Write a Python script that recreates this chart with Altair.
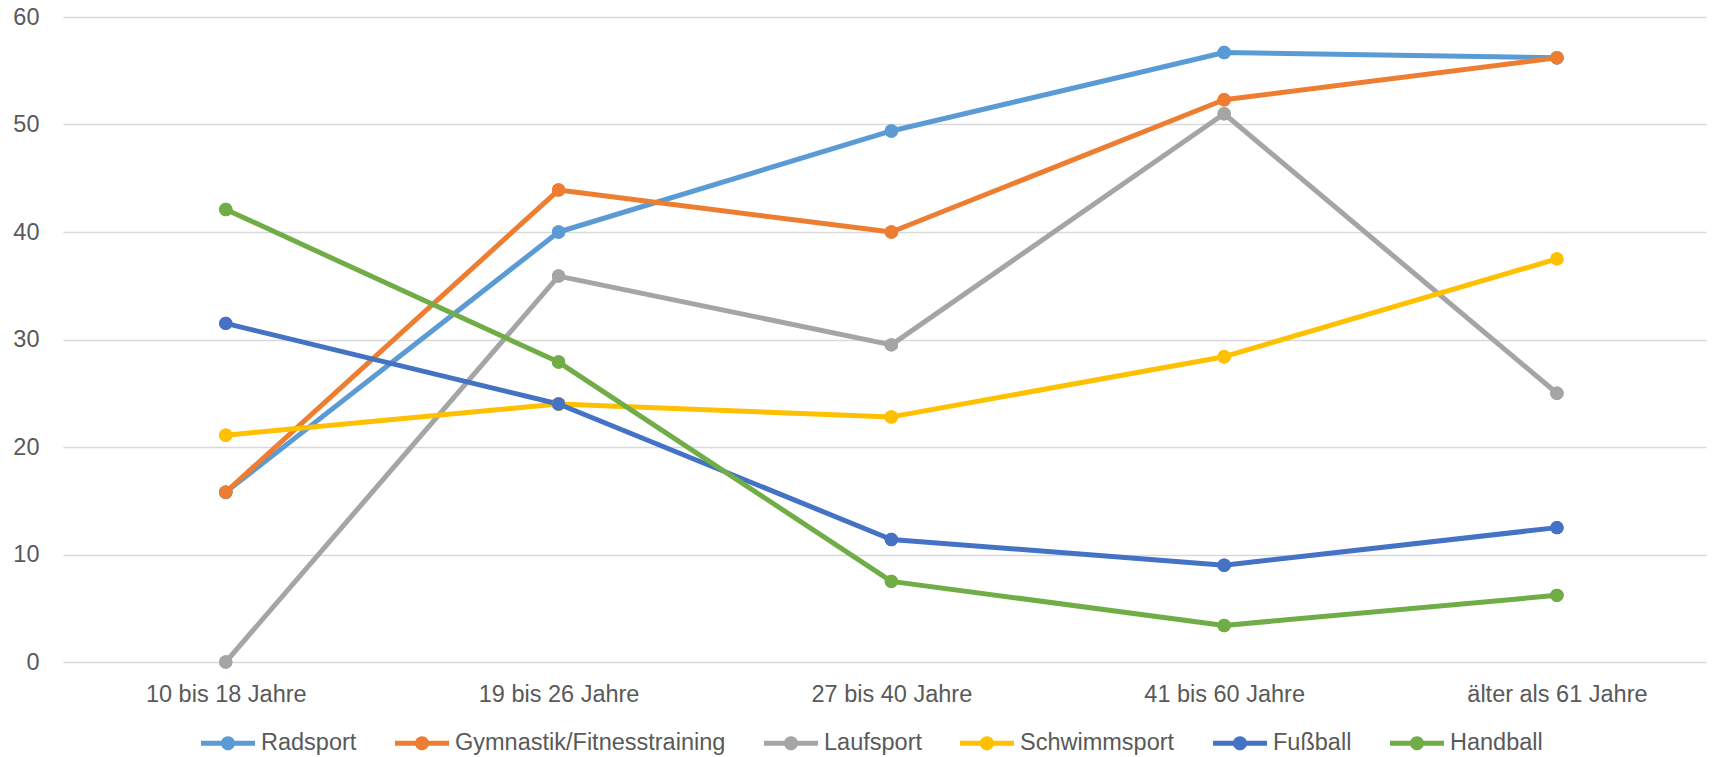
import altair as alt
import pandas as pd

categories = ["10 bis 18 Jahre", "19 bis 26 Jahre", "27 bis 40 Jahre", "41 bis 60 Jahre", "älter als 61 Jahre"]
series_names = ["Radsport", "Gymnastik/Fitnesstraining", "Laufsport", "Schwimmsport", "Fußball", "Handball"]
radsport = [15.8, 40.0, 49.4, 56.7, 56.2]
gymnastik = [15.8, 43.9, 40.0, 52.3, 56.2]
laufsport = [0.0, 35.9, 29.5, 51.0, 25.0]
schwimmsport = [21.1, 24.0, 22.8, 28.4, 37.5]
fussball = [31.5, 24.0, 11.4, 9.0, 12.5]
handball = [42.1, 27.9, 7.5, 3.4, 6.2]
colors = ["#5B9BD5", "#ED7D31", "#A5A5A5", "#FFC000", "#4472C4", "#70AD47"]
y_ticks = [0, 10, 20, 30, 40, 50, 60]

all_series = [radsport, gymnastik, laufsport, schwimmsport, fussball, handball]
rows = []
for si, (name, vals) in enumerate(zip(series_names, all_series)):
    for ci, (cat, v) in enumerate(zip(categories, vals)):
        rows.append({"Sportart": name, "Alter": cat, "Wert": v, "order": si})
df = pd.DataFrame(rows)

FONT = "Liberation Sans"
TXT = "#595959"
legend_path = ("M-1,-0.09H1V0.09H-1Z "
               "M0.26,0A0.26,0.26,0,1,1,-0.26,0A0.26,0.26,0,1,1,0.26,0Z")

x_enc = alt.X("Alter:N", sort=categories, title=None,
              scale=alt.Scale(type="point", padding=0.4685, align=0.522),
              axis=alt.Axis(labelAngle=0, ticks=False, domain=False, grid=False,
                            labelFont=FONT, labelFontSize=23.5, labelColor=TXT,
                            labelPadding=20, labelLimit=0))
y_enc = alt.Y("Wert:Q", title=None,
              scale=alt.Scale(domain=[0, 60], nice=False),
              axis=alt.Axis(values=y_ticks, ticks=False, domain=False, grid=True,
                            gridColor="#D9D9D9", gridWidth=1.3,
                            labelFont=FONT, labelFontSize=23.5, labelColor=TXT,
                            labelPadding=24))
color_enc = alt.Color("Sportart:N", sort=series_names,
                      scale=alt.Scale(domain=series_names, range=colors),
                      legend=alt.Legend(title=None, orient="none", direction="horizontal",
                                        columns=6, legendX=138, legendY=699,
                                        symbolType=legend_path, symbolSize=2916,
                                        symbolStrokeWidth=0, symbolOpacity=1,
                                        labelFont=FONT, labelFontSize=23.5,
                                        labelColor=TXT, labelOffset=6, labelLimit=0,
                                        columnPadding=38, padding=0))

base = alt.Chart(df)
points_leg = base.mark_circle(size=180, opacity=1).encode(
    x=x_enc, y=y_enc, color=color_enc, order="order:Q")
lines = base.mark_line(strokeWidth=5, strokeCap="round", strokeJoin="round").encode(
    x=x_enc, y=y_enc, color=alt.Color("Sportart:N", sort=series_names), detail="Sportart:N",
    order=alt.Order("Alter:N"))
points = base.mark_circle(size=180, opacity=1).encode(
    x=x_enc, y=y_enc, color=alt.Color("Sportart:N", sort=series_names), order="order:Q")

chart = alt.layer(points_leg, lines, points).properties(
    width=1643, height=645,
    autosize=alt.AutoSizeParams(type="none"),
    padding={"left": 55, "top": 9, "right": 14, "bottom": 95},
).configure(background="white").configure_view(stroke=None)

chart.save("out.html", embed_options={"renderer": "svg", "actions": False})
